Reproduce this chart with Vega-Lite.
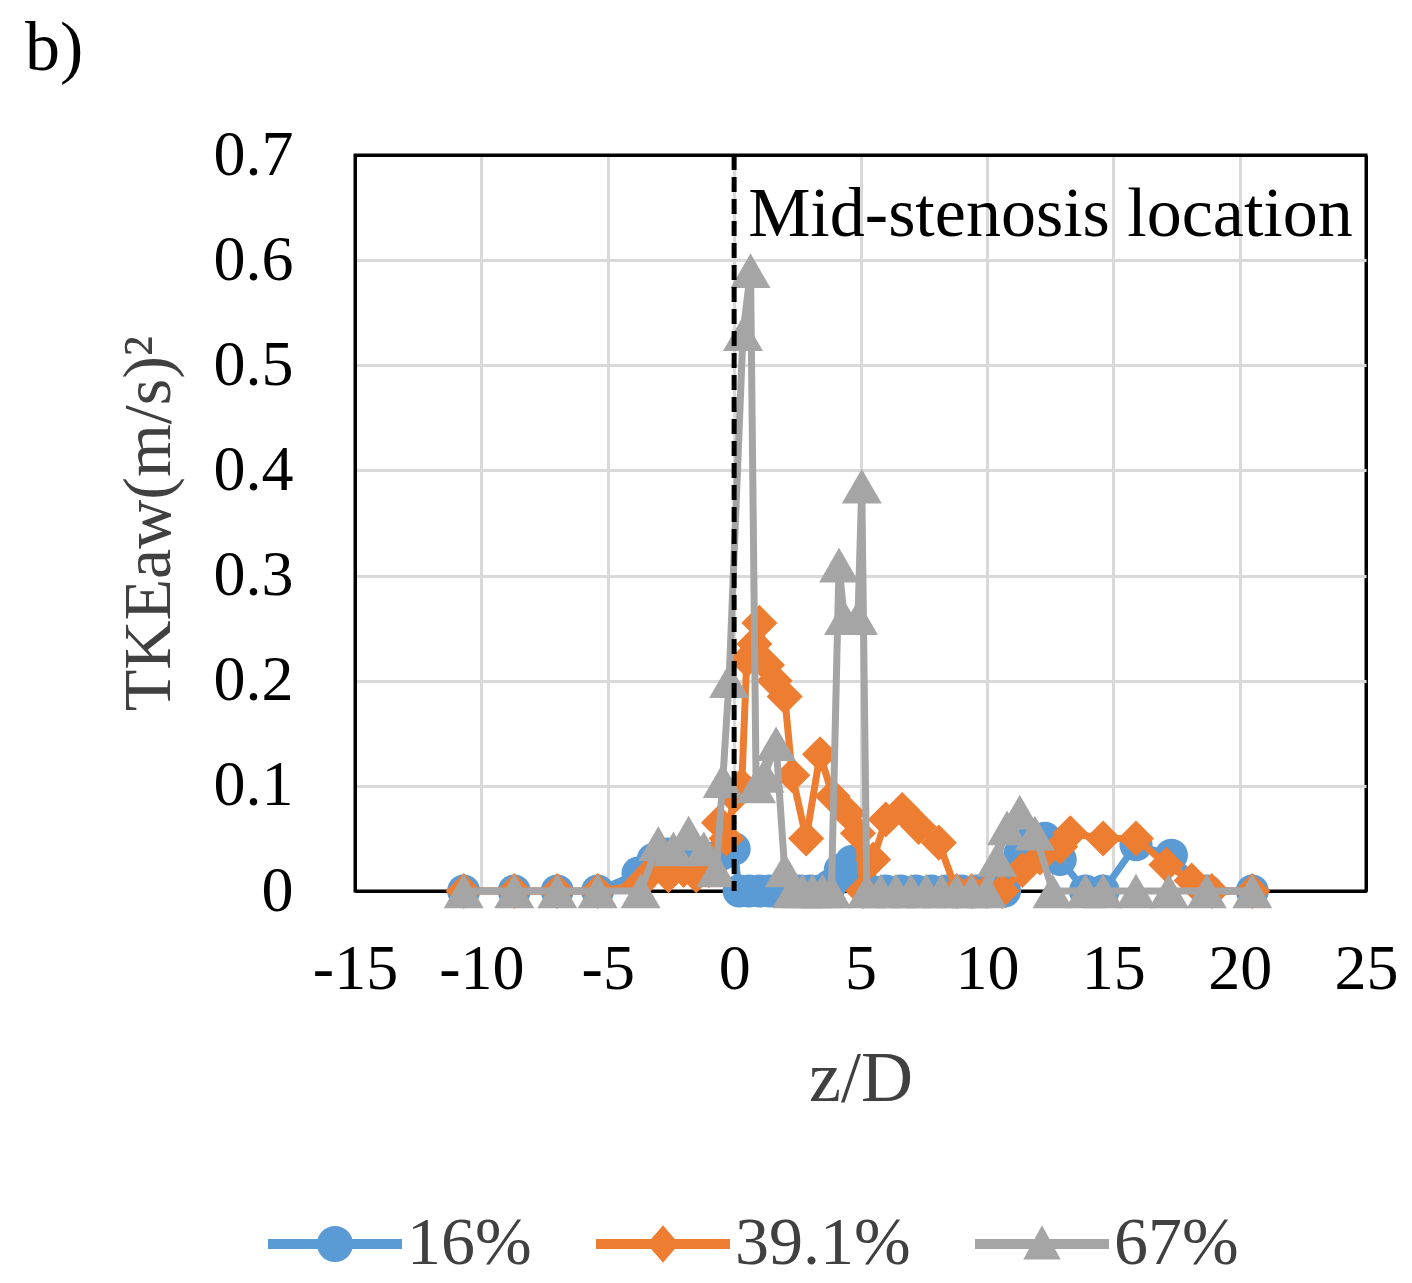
{
  "$schema": "https://vega.github.io/schema/vega-lite/v6.json",
  "autosize": "none",
  "width": 1011,
  "height": 736,
  "padding": {"left": 355, "top": 155, "right": 46, "bottom": 392},
  "background": "white",
  "title": {
    "text": "b)",
    "anchor": "start",
    "frame": "group",
    "orient": "top",
    "dx": -330,
    "offset": 38,
    "font": "Liberation Serif",
    "fontSize": 70,
    "fontWeight": "normal",
    "color": "black"
  },
  "config": {
    "font": "Liberation Serif",
    "view": {"stroke": "black", "strokeWidth": 3}
  },
  "datasets": {
    "tke": [
      {"series": "16%", "z": -10.7, "tke": 0},
      {"series": "16%", "z": -8.7, "tke": 0},
      {"series": "16%", "z": -7.0, "tke": 0},
      {"series": "16%", "z": -5.4, "tke": 0},
      {"series": "16%", "z": -3.8, "tke": 0.017},
      {"series": "16%", "z": -3.2, "tke": 0.03},
      {"series": "16%", "z": -2.6, "tke": 0.035},
      {"series": "16%", "z": -2.0, "tke": 0.035},
      {"series": "16%", "z": -1.5, "tke": 0.03},
      {"series": "16%", "z": -1.0, "tke": 0.03},
      {"series": "16%", "z": -0.5, "tke": 0.035},
      {"series": "16%", "z": 0.0, "tke": 0.04},
      {"series": "16%", "z": 0.2, "tke": 0},
      {"series": "16%", "z": 0.6, "tke": 0},
      {"series": "16%", "z": 1.0, "tke": 0},
      {"series": "16%", "z": 1.4, "tke": 0},
      {"series": "16%", "z": 1.8, "tke": 0},
      {"series": "16%", "z": 2.2, "tke": 0},
      {"series": "16%", "z": 2.6, "tke": 0},
      {"series": "16%", "z": 3.0, "tke": 0},
      {"series": "16%", "z": 3.4, "tke": 0},
      {"series": "16%", "z": 3.8, "tke": 0.005},
      {"series": "16%", "z": 4.2, "tke": 0.02},
      {"series": "16%", "z": 4.65, "tke": 0.028},
      {"series": "16%", "z": 5.0, "tke": 0.01},
      {"series": "16%", "z": 5.4, "tke": 0},
      {"series": "16%", "z": 6.0, "tke": 0},
      {"series": "16%", "z": 6.6, "tke": 0},
      {"series": "16%", "z": 7.2, "tke": 0},
      {"series": "16%", "z": 7.8, "tke": 0},
      {"series": "16%", "z": 8.4, "tke": 0},
      {"series": "16%", "z": 9.0, "tke": 0},
      {"series": "16%", "z": 9.6, "tke": 0},
      {"series": "16%", "z": 10.2, "tke": 0},
      {"series": "16%", "z": 10.7, "tke": 0},
      {"series": "16%", "z": 11.3, "tke": 0.035},
      {"series": "16%", "z": 11.8, "tke": 0.05},
      {"series": "16%", "z": 12.3, "tke": 0.05},
      {"series": "16%", "z": 12.9, "tke": 0.03},
      {"series": "16%", "z": 13.9, "tke": 0},
      {"series": "16%", "z": 14.6, "tke": 0},
      {"series": "16%", "z": 15.9, "tke": 0.044},
      {"series": "16%", "z": 17.3, "tke": 0.034},
      {"series": "16%", "z": 18.7, "tke": 0},
      {"series": "16%", "z": 20.5, "tke": 0},

      {"series": "39.1%", "z": -10.7, "tke": 0},
      {"series": "39.1%", "z": -8.7, "tke": 0},
      {"series": "39.1%", "z": -7.0, "tke": 0},
      {"series": "39.1%", "z": -5.4, "tke": 0},
      {"series": "39.1%", "z": -3.8, "tke": 0.005},
      {"series": "39.1%", "z": -3.2, "tke": 0.02},
      {"series": "39.1%", "z": -2.6, "tke": 0.015},
      {"series": "39.1%", "z": -2.0, "tke": 0.02},
      {"series": "39.1%", "z": -1.5, "tke": 0.015},
      {"series": "39.1%", "z": -1.0, "tke": 0.02},
      {"series": "39.1%", "z": -0.6, "tke": 0.065},
      {"series": "39.1%", "z": -0.3, "tke": 0.05},
      {"series": "39.1%", "z": 0.0, "tke": 0.09},
      {"series": "39.1%", "z": 0.3, "tke": 0.1},
      {"series": "39.1%", "z": 0.5, "tke": 0.22},
      {"series": "39.1%", "z": 0.8, "tke": 0.235},
      {"series": "39.1%", "z": 1.0, "tke": 0.255},
      {"series": "39.1%", "z": 1.3, "tke": 0.215},
      {"series": "39.1%", "z": 1.6, "tke": 0.2},
      {"series": "39.1%", "z": 2.0, "tke": 0.185},
      {"series": "39.1%", "z": 2.3, "tke": 0.11},
      {"series": "39.1%", "z": 2.85, "tke": 0.05},
      {"series": "39.1%", "z": 3.4, "tke": 0.13},
      {"series": "39.1%", "z": 3.9, "tke": 0.09},
      {"series": "39.1%", "z": 4.5, "tke": 0.074},
      {"series": "39.1%", "z": 4.9, "tke": 0.055},
      {"series": "39.1%", "z": 5.1, "tke": 0},
      {"series": "39.1%", "z": 5.5, "tke": 0.03},
      {"series": "39.1%", "z": 6.0, "tke": 0.068},
      {"series": "39.1%", "z": 6.65, "tke": 0.077},
      {"series": "39.1%", "z": 7.3, "tke": 0.061},
      {"series": "39.1%", "z": 8.1, "tke": 0.046},
      {"series": "39.1%", "z": 8.8, "tke": 0},
      {"series": "39.1%", "z": 9.4, "tke": 0},
      {"series": "39.1%", "z": 10.0, "tke": 0},
      {"series": "39.1%", "z": 10.6, "tke": 0},
      {"series": "39.1%", "z": 11.4, "tke": 0.02},
      {"series": "39.1%", "z": 12.1, "tke": 0.032},
      {"series": "39.1%", "z": 12.9, "tke": 0.042},
      {"series": "39.1%", "z": 13.3, "tke": 0.055},
      {"series": "39.1%", "z": 14.6, "tke": 0.05},
      {"series": "39.1%", "z": 15.9, "tke": 0.05},
      {"series": "39.1%", "z": 17.1, "tke": 0.025},
      {"series": "39.1%", "z": 18.1, "tke": 0.01},
      {"series": "39.1%", "z": 18.9, "tke": 0},
      {"series": "39.1%", "z": 20.5, "tke": 0},

      {"series": "67%", "z": -10.7, "tke": 0},
      {"series": "67%", "z": -8.7, "tke": 0},
      {"series": "67%", "z": -7.0, "tke": 0},
      {"series": "67%", "z": -5.4, "tke": 0},
      {"series": "67%", "z": -3.7, "tke": 0},
      {"series": "67%", "z": -3.0, "tke": 0.045},
      {"series": "67%", "z": -2.4, "tke": 0.04},
      {"series": "67%", "z": -1.8, "tke": 0.055},
      {"series": "67%", "z": -1.2, "tke": 0.04},
      {"series": "67%", "z": -0.7, "tke": 0.02},
      {"series": "67%", "z": -0.45, "tke": 0.105},
      {"series": "67%", "z": -0.2, "tke": 0.2},
      {"series": "67%", "z": 0.35, "tke": 0.53},
      {"series": "67%", "z": 0.65, "tke": 0.59},
      {"series": "67%", "z": 0.87, "tke": 0.1},
      {"series": "67%", "z": 1.2, "tke": 0.11},
      {"series": "67%", "z": 1.66, "tke": 0.14},
      {"series": "67%", "z": 2.0, "tke": 0.02},
      {"series": "67%", "z": 2.3, "tke": 0},
      {"series": "67%", "z": 2.7, "tke": 0},
      {"series": "67%", "z": 3.1, "tke": 0},
      {"series": "67%", "z": 3.5, "tke": 0},
      {"series": "67%", "z": 3.85, "tke": 0},
      {"series": "67%", "z": 4.15, "tke": 0.31},
      {"series": "67%", "z": 4.35, "tke": 0.26},
      {"series": "67%", "z": 4.9, "tke": 0.26},
      {"series": "67%", "z": 5.05, "tke": 0.385},
      {"series": "67%", "z": 5.25, "tke": 0},
      {"series": "67%", "z": 5.8, "tke": 0},
      {"series": "67%", "z": 6.4, "tke": 0},
      {"series": "67%", "z": 7.0, "tke": 0},
      {"series": "67%", "z": 7.6, "tke": 0},
      {"series": "67%", "z": 8.2, "tke": 0},
      {"series": "67%", "z": 8.8, "tke": 0},
      {"series": "67%", "z": 9.4, "tke": 0},
      {"series": "67%", "z": 10.0, "tke": 0},
      {"series": "67%", "z": 10.4, "tke": 0.03},
      {"series": "67%", "z": 10.8, "tke": 0.06},
      {"series": "67%", "z": 11.3, "tke": 0.075},
      {"series": "67%", "z": 11.9, "tke": 0.055},
      {"series": "67%", "z": 12.6, "tke": 0},
      {"series": "67%", "z": 13.9, "tke": 0},
      {"series": "67%", "z": 14.6, "tke": 0},
      {"series": "67%", "z": 15.9, "tke": 0},
      {"series": "67%", "z": 17.2, "tke": 0},
      {"series": "67%", "z": 18.7, "tke": 0},
      {"series": "67%", "z": 20.5, "tke": 0}
    ]
  },
  "layer": [
    {
      "data": {"name": "tke"},
      "transform": [{"filter": "datum.series === '16%'"}],
      "encoding": {
        "x": {
          "field": "z",
          "type": "quantitative",
          "scale": {"domain": [-15, 25], "nice": false, "zero": false},
          "axis": {
            "title": "z/D",
            "values": [-15, -10, -5, 0, 5, 10, 15, 20, 25],
            "labelExpr": "'' + datum.value",
            "labelFont": "Liberation Serif",
            "labelFontSize": 64,
            "labelColor": "black",
            "labelPadding": 46,
            "labelFlush": false,
            "labelOverlap": false,
            "ticks": false,
            "domain": true,
            "domainColor": "black",
            "domainWidth": 3,
            "grid": true,
            "gridColor": {"condition": {"test": "datum.value === -15 || datum.value === 25", "value": "black"}, "value": "#D9D9D9"},
            "gridWidth": 3,
            "titleFont": "Liberation Serif",
            "titleFontSize": 72,
            "titleFontWeight": "normal",
            "titleColor": "#404040",
            "titlePadding": 42
          }
        },
        "y": {
          "field": "tke",
          "type": "quantitative",
          "scale": {"domain": [0, 0.7], "nice": false},
          "axis": {
            "title": "TKEaw(m/s)²",
            "values": [0, 0.1, 0.2, 0.3, 0.4, 0.5, 0.6, 0.7],
            "labelExpr": "datum.value === 0 ? '0' : format(datum.value, '.1f')",
            "labelFont": "Liberation Serif",
            "labelFontSize": 64,
            "labelColor": "black",
            "labelPadding": 62,
            "labelOverlap": false,
            "labelFlush": false,
            "ticks": false,
            "domain": true,
            "domainColor": "black",
            "domainWidth": 3,
            "grid": true,
            "gridColor": {"condition": {"test": "datum.value === 0.7 || datum.value === 0", "value": "black"}, "value": "#D9D9D9"},
            "gridWidth": 3,
            "titleFont": "Liberation Serif",
            "titleFontSize": 68,
            "titleFontWeight": "normal",
            "titleColor": "#404040",
            "titlePadding": 30
          }
        },
        "color": {
          "field": "series",
          "type": "nominal",
          "scale": {"domain": ["16%", "39.1%", "67%"], "range": ["#5B9BD5", "#ED7D31", "#A5A5A5"]},
          "legend": {
            "title": null,
            "orient": "none",
            "legendX": -87,
            "legendY": 1022,
            "direction": "horizontal",
            "symbolSize": 17956,
            "labelFont": "Liberation Serif",
            "labelFontSize": 68,
            "labelColor": "#404040",
            "labelOffset": 5,
            "labelLimit": 500,
            "columnPadding": 64,
            "encode": {
              "symbols": {
                "update": {
                  "shape": {"signal": "datum.value === '16%' ? 'M-1,-0.075H1V0.075H-1Z M0,-0.27A0.27,0.27,0,1,1,0,0.27A0.27,0.27,0,1,1,0,-0.27Z' : datum.value === '39.1%' ? 'M-1,-0.075H1V0.075H-1Z M0,-0.28L0.24,0L0,0.28L-0.24,0Z' : 'M-1,-0.075H1V0.075H-1Z M0,-0.28L0.28,0.23L-0.28,0.23Z'"},
                  "fill": {"signal": "datum.value === '16%' ? '#5B9BD5' : datum.value === '39.1%' ? '#ED7D31' : '#A5A5A5'"},
                  "fillOpacity": {"value": 1},
                  "opacity": {"value": 1},
                  "strokeWidth": {"value": 0}
                }
              }
            }
          }
        }
      },
      "layer": [
        {"mark": {"type": "line", "strokeWidth": 7, "strokeJoin": "round"}},
        {"mark": {"type": "point", "shape": "circle", "filled": true, "size": 1100, "opacity": 1}}
      ]
    },
    {
      "data": {"name": "tke"},
      "transform": [{"filter": "datum.series === '39.1%'"}],
      "encoding": {
        "x": {"field": "z", "type": "quantitative"},
        "y": {"field": "tke", "type": "quantitative"},
        "color": {"field": "series", "type": "nominal"}
      },
      "layer": [
        {"mark": {"type": "line", "strokeWidth": 7, "strokeJoin": "round"}},
        {"mark": {"type": "point", "shape": "diamond", "filled": true, "size": 1300, "opacity": 1}}
      ]
    },
    {
      "data": {"name": "tke"},
      "transform": [{"filter": "datum.series === '67%'"}],
      "encoding": {
        "x": {"field": "z", "type": "quantitative"},
        "y": {"field": "tke", "type": "quantitative"},
        "color": {"field": "series", "type": "nominal"}
      },
      "layer": [
        {"mark": {"type": "line", "strokeWidth": 7, "strokeJoin": "round"}},
        {"mark": {"type": "point", "shape": "triangle-up", "filled": true, "size": 1600, "opacity": 1}}
      ]
    },
    {
      "data": {"values": [{"label": "Mid-stenosis location"}]},
      "layer": [
        {
          "mark": {"type": "rule", "color": "black", "strokeWidth": 5, "strokeDash": [15, 7]},
          "encoding": {"x": {"datum": 0}}
        },
        {
          "mark": {"type": "text", "align": "left", "baseline": "middle", "dx": 14, "font": "Liberation Serif", "fontSize": 70, "color": "black"},
          "encoding": {"x": {"datum": 0}, "y": {"datum": 0.643}, "text": {"field": "label"}}
        }
      ]
    }
  ]
}
